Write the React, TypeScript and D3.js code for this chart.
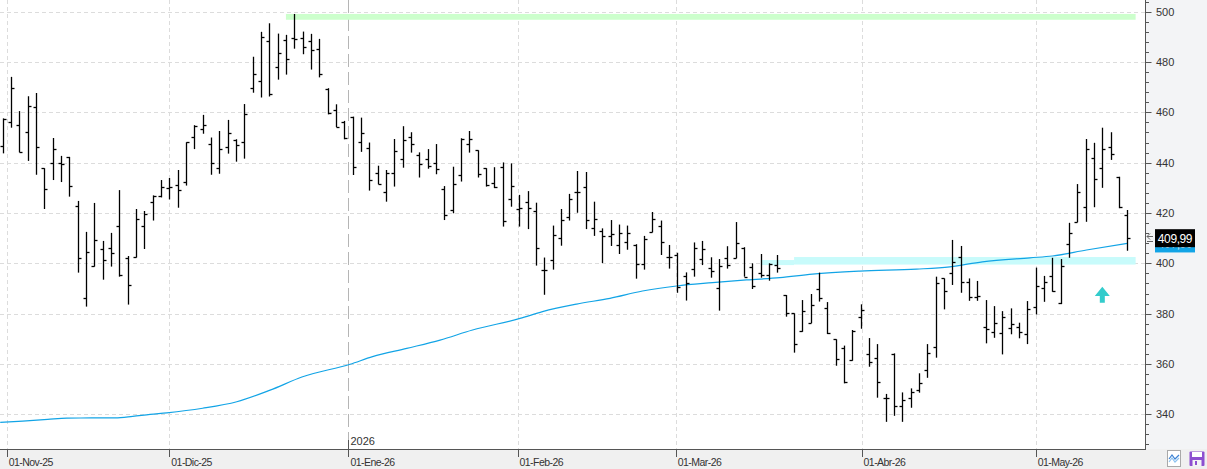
import * as d3 from 'd3';

// OHLC, one entry per trading day
const opens = [446.6, 456.0, 454.9, 452.1, 462.0, 437.8, 439.7, 439.7, 442.3, 422.9, 386.1, 398.9, 405.7, 406.0, 414.7, 402.0, 402.4, 414.7, 424.2, 426.6, 430.1, 431.1, 432.2, 450.2, 453.5, 447.3, 437.8, 446.2, 448.9, 448.1, 469.6, 472.5, 488.2, 477.9, 488.6, 489.7, 489.7, 488.2, 485.3, 469.3, 460.9, 456.0, 458.2, 448.1, 446.0, 435.8, 428.2, 435.8, 441.3, 450.2, 442.9, 441.3, 439.7, 429.4, 421.3, 435.0, 447.6, 444.9, 437.8, 431.8, 438.4, 425.6, 421.6, 424.5, 420.8, 397.4, 401.3, 410.1, 418.4, 428.2, 430.2, 413.9, 413.0, 410.9, 407.3, 408.3, 407.3, 399.6, 412.3, 414.8, 402.6, 403.3, 394.8, 397.6, 401.7, 398.0, 390.1, 402.0, 402.0, 406.0, 398.7, 396.0, 395.4, 399.3, 387.4, 380.1, 373.1, 376.4, 389.7, 382.1, 369.8, 366.2, 361.6, 378.5, 363.8, 362.2, 346.3, 363.9, 343.3, 346.5, 349.6, 357.6, 366.6, 394.0, 396.0, 402.6, 392.7, 386.5, 374.8, 372.6, 372.2, 374.2, 374.8, 371.8, 382.8, 390.1, 395.0, 384.3, 407.6, 416.3, 422.3, 442.0, 437.8, 446.2, 434.4, 419.2];
const highs = [457.6, 474.1, 460.5, 466.4, 467.7, 437.8, 449.8, 442.7, 442.3, 424.8, 412.5, 424.0, 408.9, 412.1, 429.1, 402.9, 421.6, 420.8, 427.0, 433.1, 433.9, 437.1, 448.1, 454.9, 459.0, 450.0, 452.6, 457.0, 449.3, 463.3, 482.1, 492.0, 495.4, 491.3, 490.8, 499.1, 492.1, 491.2, 489.2, 469.6, 463.2, 456.6, 458.3, 457.9, 448.0, 438.8, 437.1, 449.4, 454.5, 452.1, 444.1, 445.4, 447.4, 430.7, 438.4, 449.7, 452.6, 444.9, 437.8, 438.2, 440.1, 439.7, 427.2, 428.7, 424.1, 402.3, 415.0, 421.6, 427.6, 436.7, 436.3, 424.5, 413.9, 417.2, 415.4, 415.0, 407.6, 410.9, 420.4, 417.0, 407.3, 404.2, 396.4, 408.3, 408.9, 402.4, 401.7, 406.8, 416.4, 406.4, 400.0, 403.7, 400.0, 403.3, 387.4, 380.1, 385.4, 387.8, 396.3, 384.6, 369.8, 367.3, 373.5, 383.7, 370.3, 367.9, 348.1, 364.2, 348.7, 350.3, 356.3, 367.9, 394.7, 394.0, 409.3, 406.9, 394.0, 393.0, 385.4, 383.0, 381.0, 382.1, 376.4, 385.0, 398.3, 395.0, 402.2, 401.7, 416.1, 431.5, 449.4, 447.9, 453.9, 452.1, 434.4, 421.2];
const lows = [443.7, 453.9, 444.1, 440.7, 435.2, 421.6, 433.1, 432.3, 426.5, 396.3, 382.8, 398.7, 393.5, 398.7, 394.7, 383.6, 402.3, 405.7, 417.0, 426.2, 425.4, 422.1, 430.9, 445.4, 451.5, 435.2, 435.6, 443.6, 440.4, 441.6, 467.8, 465.9, 466.3, 473.0, 475.0, 485.3, 483.1, 477.0, 473.9, 459.2, 454.1, 449.3, 435.1, 444.3, 428.9, 431.4, 424.5, 430.5, 438.0, 444.0, 434.1, 437.6, 435.4, 417.2, 419.9, 432.5, 444.0, 434.1, 430.5, 429.9, 414.6, 422.5, 414.6, 413.6, 399.1, 387.5, 397.5, 407.0, 417.0, 420.1, 413.6, 410.9, 400.1, 406.9, 403.7, 405.4, 393.9, 397.5, 412.3, 403.3, 397.9, 388.3, 385.2, 394.7, 399.3, 394.3, 381.2, 397.9, 402.0, 394.7, 389.8, 394.3, 393.1, 396.3, 378.8, 364.5, 372.8, 376.2, 384.8, 371.9, 359.3, 352.3, 361.3, 374.0, 358.9, 346.6, 337.0, 339.4, 337.0, 342.6, 348.6, 354.5, 362.5, 381.7, 391.4, 388.3, 385.1, 385.1, 368.2, 370.4, 363.8, 371.8, 370.2, 367.9, 379.7, 384.7, 388.7, 383.8, 402.2, 416.3, 416.5, 422.3, 430.0, 441.1, 421.9, 405.0];
const closes = [457.4, 469.6, 444.1, 462.4, 446.2, 429.4, 445.3, 439.4, 430.6, 402.0, 404.4, 409.1, 401.2, 404.0, 395.2, 391.3, 417.5, 419.5, 426.6, 430.2, 430.2, 429.0, 448.1, 454.6, 455.0, 439.7, 445.3, 451.7, 447.0, 459.2, 475.3, 490.0, 467.3, 483.6, 481.1, 489.1, 485.9, 484.7, 475.3, 459.6, 454.3, 449.7, 438.3, 451.7, 433.1, 431.4, 435.8, 444.8, 448.9, 447.3, 439.5, 438.6, 437.6, 419.1, 431.4, 449.4, 449.3, 435.5, 431.0, 430.5, 416.8, 430.6, 421.9, 421.9, 406.0, 397.4, 411.3, 417.2, 425.6, 428.2, 417.2, 417.5, 410.7, 411.7, 411.9, 411.9, 399.6, 409.5, 417.5, 408.3, 402.4, 390.7, 392.3, 406.0, 405.7, 397.0, 398.9, 399.3, 407.9, 394.7, 391.1, 395.4, 399.6, 398.0, 380.1, 367.9, 381.1, 383.4, 386.1, 372.2, 361.8, 352.7, 373.2, 381.3, 360.8, 352.7, 346.3, 343.3, 345.7, 348.7, 352.3, 364.2, 392.1, 389.0, 400.6, 392.4, 386.5, 387.1, 373.8, 376.2, 378.5, 375.9, 372.8, 381.7, 391.0, 392.4, 389.1, 398.9, 411.9, 428.2, 445.4, 433.4, 445.4, 443.3, 422.3, 409.99];

// moving average, read at bar positions
const maIdx = [-0.3, 2.4, 5.4, 7.7, 13.5, 15.6, 17.7, 19.7, 24, 28.1, 32.1, 36, 41.7, 44.4, 48.5, 52.5, 56.4, 62.1, 64.8, 68.9, 72.9, 76.8, 80.9, 85.2, 89.3, 93.3, 97.2, 102.9, 109.7, 113.7, 117.6, 123.3, 126, 130.1, 135];
const maVal = [336.8, 337.3, 338.0, 338.5, 338.6, 339.2, 340.0, 340.6, 342.4, 345.0, 349.6, 354.9, 359.9, 362.9, 366.2, 369.5, 373.5, 378.1, 380.8, 383.8, 386.1, 389.0, 391.0, 392.3, 393.4, 394.3, 395.7, 396.9, 397.7, 398.6, 400.6, 402.2, 402.9, 405.3, 407.9];

const monthLabels = ['01-Nov-25', '01-Dic-25', '01-Ene-26', '01-Feb-26', '01-Mar-26', '01-Abr-26', '01-May-26'];
const monthAt = [0.48, 20, 41.5, 61.8, 80.8, 103.1, 124];
const yTickVals = [340, 360, 380, 400, 420, 440, 460, 480, 500];

// zones: [fromBar, toBar, low, high]
const resistZone = [34, 136, 496.8, 499.1];
const supportZones = [[91, 95, 399.3, 401.3], [95, 136, 399.5, 402.5]];
const signalBar = 132, signalTip = 390.7, signalHead = 387.0, signalBase = 384.3;

const W = 1207, H = 469, plotR = 1145, plotB = 449;
const font = "'Liberation Sans', Arial, sans-serif";

export default function App() {
  const x = d3.scaleLinear().domain([0, closes.length - 1]).range([2.7, 1127.3]);
  const y = d3.scaleLinear().domain([340, 500]).range([414.3, 11.7]);
  const bx = (i: number) => Math.round(x(i)) + 0.5;
  const by = (v: number) => Math.round(y(v)) + 0.5;

  const maLine = d3.line<number>()
    .x((_, i) => x(maIdx[i]))
    .y(d => y(d))
    .curve(d3.curveMonotoneX)(maVal) || '';

  const minorTicks = d3.range(328, 508, 4).filter(v => y(v) >= 0 && y(v) <= plotB);
  const last = closes[closes.length - 1];
  const lastMa = maVal[maVal.length - 1];
  const fmt = (v: number) => v.toFixed(2).replace('.', ',');

  const sx = x(signalBar);
  const arrow = [
    [sx, y(signalTip)], [sx + 7.5, y(signalHead)], [sx + 2.5, y(signalHead)], [sx + 2.5, y(signalBase)],
    [sx - 2.5, y(signalBase)], [sx - 2.5, y(signalHead)], [sx - 7.5, y(signalHead)]
  ].map(p => p.join(',')).join(' ');

  const blackTop = y(last) - 9;

  return (
    <div style={{ position: 'absolute', left: 0, top: 0 }}>
      <svg width={W} height={H} style={{ display: 'block' }} fontFamily={font}>
        <defs>
          <clipPath id="maTag">
            <rect x={1155} y={blackTop + 18} width={40} height={y(lastMa) + 9 - blackTop - 18} />
          </clipPath>
        </defs>
        <rect x={0} y={0} width={W} height={H} fill="#fff" />
        <rect x={plotR} y={0} width={W - plotR} height={H} fill="#f3f4f6" />
        <rect x={0} y={plotB} width={W} height={H - plotB} fill="#f0f0f0" />

        {/* grid */}
        {yTickVals.map(v => (
          <line key={'h' + v} x1={0} x2={plotR} y1={by(v)} y2={by(v)} stroke="#dcdcdc" strokeDasharray="4,3" />
        ))}
        {monthLabels.map((m, i) => {
          const yr = m.includes('-Ene-');
          return (
            <line key={'v' + m} x1={bx(monthAt[i])} x2={bx(monthAt[i])} y1={0} y2={plotB}
              stroke={yr ? '#b5b5b5' : '#dcdcdc'} strokeDasharray={yr ? '13,5' : '4,3'} />
          );
        })}

        {/* zones */}
        <rect x={x(resistZone[0])} width={x(resistZone[1]) - x(resistZone[0])}
          y={y(resistZone[3])} height={y(resistZone[2]) - y(resistZone[3])} fill="#ccffcc" />
        {supportZones.map((z, i) => (
          <rect key={'s' + i} x={x(z[0])} width={x(z[1]) - x(z[0])}
            y={y(z[3])} height={y(z[2]) - y(z[3])} fill="#c8fbfb" />
        ))}

        {/* moving average */}
        <path d={maLine} fill="none" stroke="#12a4e6" strokeWidth={1.2} />

        {/* OHLC bars */}
        <g stroke="#000" strokeWidth={1.3}>
          {closes.map((c, i) => {
            const cx = bx(i);
            return (
              <g key={i}>
                <line x1={cx} x2={cx} y1={y(highs[i])} y2={y(lows[i])} />
                <line x1={cx - 3} x2={cx} y1={by(opens[i])} y2={by(opens[i])} />
                <line x1={cx} x2={cx + 3} y1={by(c)} y2={by(c)} />
              </g>
            );
          })}
        </g>

        {/* signal arrow */}
        <polygon points={arrow} fill="#33cccc" />

        {/* axes */}
        <line x1={plotR + 0.5} x2={plotR + 0.5} y1={0} y2={plotB} stroke="#555" />
        <line x1={0} x2={plotR + 1} y1={plotB + 0.5} y2={plotB + 0.5} stroke="#555" />
        {minorTicks.map(v => (
          <line key={'t' + v} x1={plotR} x2={plotR + (v % 20 === 0 ? 6.5 : 4)} y1={by(v)} y2={by(v)} stroke="#555" />
        ))}
        {yTickVals.map(v => (
          <text key={'l' + v} x={1156} y={y(v)} dy="0.35em" fontSize={11} fill="#333">{v}</text>
        ))}
        {monthLabels.map((m, i) => {
          const yr = m.includes('-Ene-');
          return (
            <g key={'m' + m}>
              <line x1={bx(monthAt[i])} x2={bx(monthAt[i])} y1={yr ? 440 : plotB} y2={457} stroke="#555" />
              <text x={x(monthAt[i]) + 2} y={465.5} fontSize={10.5} letterSpacing={-0.55} fill="#333">{m}</text>
              {yr && <text x={x(monthAt[i]) + 2} y={445} fontSize={11} fill="#333">{'20' + m.slice(-2)}</text>}
            </g>
          );
        })}

        {/* last value labels: MA tag mostly hidden behind the price tag */}
        <rect x={1155} y={y(lastMa) - 9} width={40} height={18} fill="#12a4e6" />
        <g clipPath="url(#maTag)">
          <text x={1175} y={y(lastMa)} dy="0.35em" textAnchor="middle" fontSize={12} letterSpacing={-0.4} fill="#fff">{fmt(lastMa)}</text>
        </g>
        <rect x={1155} y={blackTop} width={40} height={18} fill="#000" />
        <text x={1175} y={y(last)} dy="0.36em" textAnchor="middle" fontSize={12} letterSpacing={-0.4} fill="#fff">{fmt(last)}</text>
        <path d={`M1153,${by(last) - 2} H1147 M1150,${by(last) - 5} L1147,${by(last) - 2} L1150,${by(last) + 1} M1153,${by(last) + 3} H1147`}
          stroke="#666" fill="none" />

        {/* toolbar icons */}
        <rect x={1167.5} y={450.5} width={13} height={16} fill="#fff" stroke="#a9a9a9" />
        <polyline points="1169,459 1172,455 1175,459 1179,455" fill="none" stroke="#3b82d6" strokeWidth={1.2} />
        <polyline points="1169,462 1172,458 1175,462 1179,458" fill="none" stroke="#8fc3f0" strokeWidth={1.2} />
        <rect x={1189.5} y={451.5} width={15} height={14.5} rx={1} fill="#8d4fd0" />
        <rect x={1192} y={452} width={10} height={5} fill="#fff" />
        <rect x={1192.5} y={460} width={9} height={6} fill="#f3f4f6" />
        <rect x={1195} y={461} width={2} height={4} fill="#8d4fd0" />
      </svg>
    </div>
  );
}
